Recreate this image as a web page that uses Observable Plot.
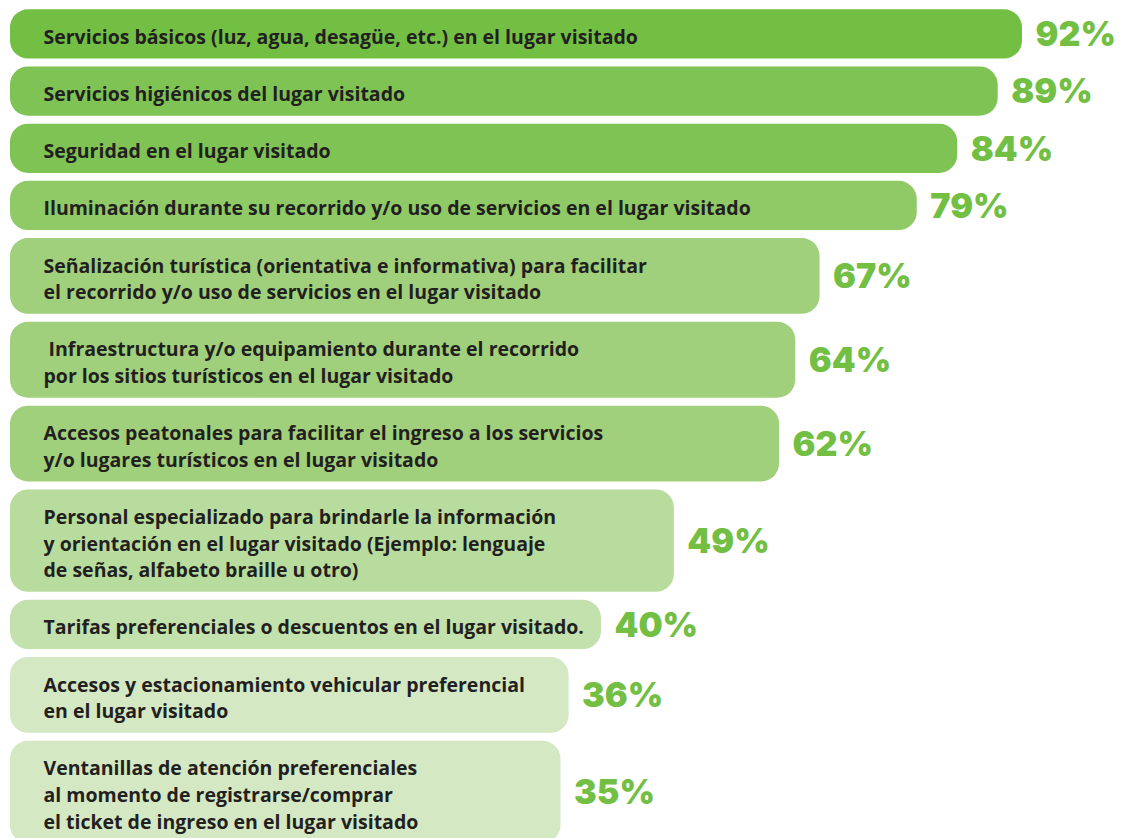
<!DOCTYPE html>
<html><head><meta charset="utf-8">
<script src="https://cdn.jsdelivr.net/npm/d3@7"></script>
<script src="https://cdn.jsdelivr.net/npm/@observablehq/plot@0.6"></script>
<style>body{margin:0;background:#fff}</style>
</head><body><div id="chart"></div>
<script>
const labels = [
  "Servicios básicos (luz, agua, desagüe, etc.) en el lugar visitado",
  "Servicios higiénicos del lugar visitado",
  "Seguridad en el lugar visitado",
  "Iluminación durante su recorrido y/o uso de servicios en el lugar visitado",
  "Señalización turística (orientativa e informativa) para facilitar\nel recorrido y/o uso de servicios en el lugar visitado",
  "\u00a0Infraestructura y/o equipamiento durante el recorrido\npor los sitios turísticos en el lugar visitado",
  "Accesos peatonales para facilitar el ingreso a los servicios\ny/o lugares turísticos en el lugar visitado",
  "Personal especializado para brindarle la información\ny orientación en el lugar visitado (Ejemplo: lenguaje\nde señas, alfabeto braille u otro)",
  "Tarifas preferenciales o descuentos en el lugar visitado.",
  "Accesos y estacionamiento vehicular preferencial\nen el lugar visitado",
  "Ventanillas de atención preferenciales\nal momento de registrarse/comprar\nel ticket de ingreso en el lugar visitado"
];
const values = [92, 89, 84, 79, 67, 64, 62, 49, 40, 36, 35];
const colors = ["#72bf44", "#7ec354", "#7ec354", "#8fca67", "#a0d07b", "#a0d07b", "#a0d07b", "#b8dc9d", "#c2e1ac", "#d4e8c4", "#d4e8c4"];

// layout in "line units"
const BAR_PAD = 0.85;
const GAP = 0.30;
let offset = 0;
const rows = labels.map((label, i) => {
  const lines = label.split("\n").length;
  const y1 = offset + GAP / 2;
  const y2 = y1 + lines + BAR_PAD;
  offset += lines + BAR_PAD + GAP;
  return {label, value: values[i], color: colors[i], pct: values[i] + "%", y1, y2, ym: (y1 + y2) / 2};
});
const X_MIN = -33;
const LINE_PX = 26.6;
const TOP = 5.3;
const FS = 19.5;

const chart = Plot.plot({
  width: 1143, height: 838, margin: 0,
  style: {background: "#fff", overflow: "hidden"},
  x: {domain: [X_MIN, 92], range: [10, 1022], axis: null},
  y: {domain: [0, offset], range: [TOP, TOP + offset * LINE_PX], axis: null},
  color: {type: "identity"},
  marks: [
    Plot.rectX(rows, {x1: X_MIN, x2: "value", y1: "y1", y2: "y2", fill: "color", rx: 18}),
    Plot.text(rows, {x: X_MIN, y: "ym", text: "label", dx: 33, dy: 1, textAnchor: "start", lineAnchor: "middle", lineHeight: LINE_PX / FS, fill: "#231f20", fontSize: FS, fontWeight: 700, fontFamily: "Open Sans"}),
    Plot.text(rows, {x: "value", y: "ym", text: "pct", dx: 13, dy: 1, textAnchor: "start", fill: "#72bf44", fontSize: 34, fontWeight: 900, fontFamily: "Inter", letterSpacing: 1.5})
  ]
});
document.getElementById("chart").appendChild(chart);
</script>
</body></html>
